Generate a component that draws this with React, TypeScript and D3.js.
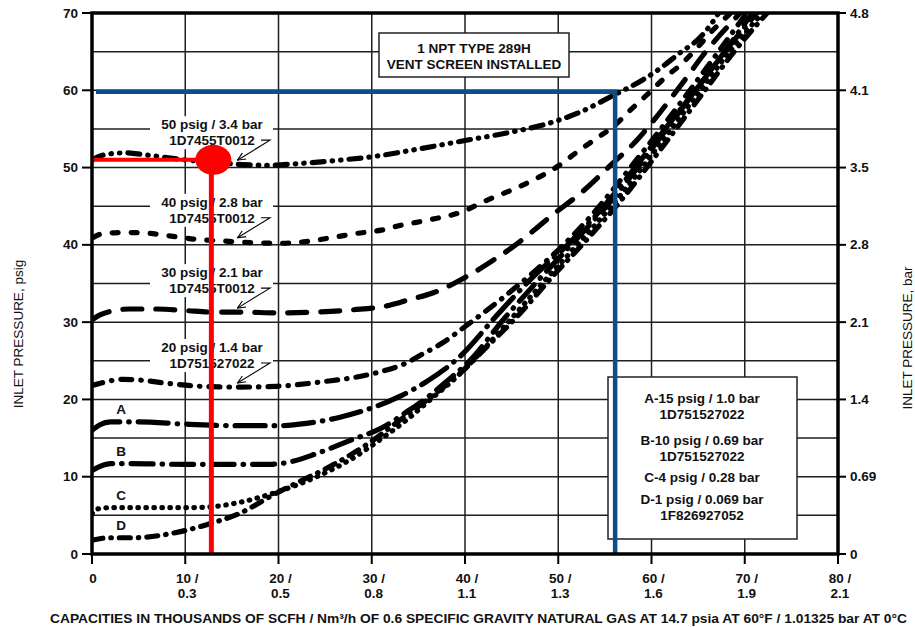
import React, { useEffect, useRef } from "react";
import * as d3 from "d3";

type Pt = [number, number];

// capacity (thousands of SCFH) vs inlet pressure (psig)
const curve50psig: Pt[] = [[0,51.0],[1.5,51.7],[3.5,51.9],[6,51.6],[8,51.3],[10,51.0],[13,50.7],[16,50.4],[19,50.3],[22,50.5],[26,50.9],[30,51.4],[35,52.4],[40,53.5],[45,54.6],[48,55.4],[52,57.0],[56,59.4],[59,61.3],[61,62.9],[63,64.8],[65,66.6],[66.3,68.4],[67.2,70]]
const curve40psig: Pt[] = [[0.2,41.0],[1,41.4],[3.5,41.6],[6,41.5],[8.7,41.1],[11.3,40.7],[14,40.5],[17,40.3],[20,40.2],[23.4,40.5],[26,41.0],[28.5,41.5],[31,41.9],[33,42.5],[36,43.2],[39.5,44.2],[42.4,45.8],[45,47.1],[48,48.8],[50,50.2],[52,52.0],[54,53.7],[56,55.4],[57.7,57.4],[59.5,59.4],[61.4,61.6],[63.3,63.5],[64.9,65.5],[66.6,67.8],[68.5,70]]
const curve30psig: Pt[] = [[0,30.3],[0.8,30.9],[2,31.4],[4,31.7],[7,31.7],[10,31.5],[13,31.3],[16,31.3],[20,31.2],[24,31.3],[28,31.6],[31.6,32.1],[34,32.9],[36.6,33.8],[38.8,35.0],[40.9,36.4],[43,38.0],[45.1,39.7],[47,41.5],[49.1,43.6],[52.7,47.0],[55.7,50.4],[58.4,53.5],[60.3,56.2],[62.3,59.3],[63.8,61.7],[65.5,64.5],[67.3,67.1],[69.2,69.6],[69.5,70]]
const curve20psig: Pt[] = [[0,21.8],[0.9,22.1],[3.3,22.6],[5.1,22.5],[8,22.1],[11.6,21.7],[15.9,21.6],[19.8,21.7],[24.8,22.3],[28.4,22.9],[31,23.6],[33.5,24.6],[35.5,25.9],[37.3,27.1],[40.2,29.6],[43.8,32.9],[47.3,36.4],[50.4,39.8],[53.7,44.0],[55.5,46.6],[58,50.4],[61,55.0],[64,59.8],[67,64.7],[70.2,70]]
const curveA: Pt[] = [[0,16.0],[0.8,16.7],[2,17.1],[5,17.1],[10,16.8],[16,16.6],[20,16.6],[23,16.9],[26.6,17.7],[30,18.9],[33,20.4],[36,22.4],[39.5,25.6],[43.5,31.0],[47,35.5],[51,40.0],[55.6,46.0],[59,51.2],[62.5,56.6],[66,62.0],[70.8,70]]
const curveB: Pt[] = [[0,10.8],[0.8,11.3],[2,11.7],[4,11.7],[10,11.6],[19,11.6],[21.2,11.9],[24.1,13.0],[27.7,14.7],[31.2,16.4],[34,18.6],[36,20.3],[38,22.3],[40.5,25.0],[44.3,30.6],[48,35.6],[52,40.8],[56.1,46.3],[60,52.4],[64,58.8],[68,65.2],[71.3,70]]
const curveC: Pt[] = [[0,5.2],[0.5,5.8],[2,6.0],[6,6.0],[10.5,6.0],[12.7,6.1],[15.9,6.7],[19.8,8.0],[24.1,10.0],[27.7,12.2],[30.9,14.8],[34,17.6],[36.5,20.2],[39,22.8],[42,26.5],[45,30.5],[48.5,35.3],[52.5,40.6],[56.6,46.3],[60.5,52.4],[64.5,58.8],[68.5,65.2],[71.9,70]]
const curveD: Pt[] = [[0,1.8],[1.9,2.1],[4.4,2.1],[8.7,2.7],[12.3,3.8],[15.9,5.3],[19.8,7.9],[22.3,9.4],[25.8,11.5],[30,14.6],[33,17.3],[36,20.0],[39.5,23.4],[42.5,27.0],[45.8,31.0],[49.3,35.8],[53,40.6],[57.1,46.3],[61,52.4],[65,58.8],[69,65.2],[72.4,70]]

const labelledCurves = [curve50psig, curve40psig, curve30psig, curve20psig]
const labelLine1 = ['50 psig / 3.4 bar', '40 psig / 2.8 bar', '30 psig / 2.1 bar', '20 psig / 1.4 bar']
const labelLine2 = ['1D7455T0012', '1D7455T0012', '1D7455T0012', '1D751527022']
const letterCurves = [curveA, curveB, curveC, curveD]
const letters = ['A', 'B', 'C', 'D']
const legendLines = ['A-15 psig / 1.0 bar', '1D751527022', 'B-10 psig / 0.69 bar', '1D751527022', 'C-4 psig / 0.28 bar', 'D-1 psig / 0.069 bar', '1F826927052']

const psigTicks = [0, 10, 20, 30, 40, 50, 60, 70]
const barLabels = ['0', '0.69', '1.4', '2.1', '2.8', '3.5', '4.1', '4.8']
const scfhTicks = [0, 10, 20, 30, 40, 50, 60, 70, 80]
const nm3Labels = ['', '0.3', '0.5', '0.8', '1.1', '1.3', '1.6', '1.9', '2.1']

// sizing example (red) and vent screen limit (blue)
const redPoint: Pt = [12.8, 51]
const bluePoint: Pt = [56.1, 60]

const interp = (pts: Pt[], xv: number) => {
  for (let i = 1; i < pts.length; i++) {
    if (pts[i][0] >= xv) {
      const [x0, y0] = pts[i - 1], [x1, y1] = pts[i]
      return y0 + (y1 - y0) * (xv - x0) / (x1 - x0)
    }
  }
  return pts[pts.length - 1][1]
}

const App = () => {
  const chart = useRef<SVGSVGElement>(null)

  useEffect(() => {
    const font = "'Liberation Sans', Arial, Helvetica, sans-serif"
    const svg = d3.select(chart.current)
    svg.selectAll('*').remove()

    const x = d3.scaleLinear().domain([0, 80]).range([92, 838])
    const y = d3.scaleLinear().domain([0, 70]).range([554, 13])

    svg.append('rect').attr('width', 915).attr('height', 627).attr('fill', '#fff')

    const defs = svg.append('defs')
    defs.append('clipPath').attr('id', 'plot-clip')
      .append('rect').attr('x', x(0)).attr('y', y(70)).attr('width', x(80) - x(0)).attr('height', y(0) - y(70))
    defs.append('marker').attr('id', 'arrow')
      .attr('viewBox', '0 0 10 10').attr('refX', 9).attr('refY', 5)
      .attr('markerWidth', 9).attr('markerHeight', 9).attr('markerUnits', 'userSpaceOnUse')
      .attr('orient', 'auto')
      .append('path').attr('d', 'M0,1 L9,5 L0,9').attr('fill', 'none').attr('stroke', '#000').attr('stroke-width', 1.2)

    // grid
    const grid = svg.append('g').attr('stroke', '#1e1e1e').attr('stroke-width', 1.5)
    grid.selectAll('line.h').data(d3.range(5, 70, 5)).join('line').attr('class', 'h')
      .attr('x1', x(0)).attr('x2', x(80)).attr('y1', d => y(d)).attr('y2', d => y(d))
    grid.selectAll('line.v').data(d3.range(10, 80, 10)).join('line').attr('class', 'v')
      .attr('x1', d => x(d)).attr('x2', d => x(d)).attr('y1', y(0)).attr('y2', y(70))

    // label positions follow the curves
    const arrowX = 15.6
    const labelPos = labelledCurves.map(c => {
      const cy = y(interp(c, arrowX))
      return { base1: cy - 35, base2: cy - 19, tipY: cy - 4 }
    })

    svg.append('g').attr('fill', '#fff').selectAll('rect').data(labelPos).join('rect')
      .attr('x', 150).attr('y', d => d.base1 - 13).attr('width', 123).attr('height', d => d.base2 - d.base1 + 17)

    // boxes
    svg.append('rect').attr('x', 379).attr('y', 33).attr('width', 190).attr('height', 44)
      .attr('fill', '#fff').attr('stroke', '#222').attr('stroke-width', 1.5)
    svg.append('rect').attr('x', 608).attr('y', 377).attr('width', 189).attr('height', 162)
      .attr('fill', '#fff').attr('stroke', '#222').attr('stroke-width', 1.5)

    const line = d3.line<Pt>().x(d => x(d[0])).y(d => y(d[1])).curve(d3.curveMonotoneX)
    const series = [
      { pts: curve50psig, dash: '12 8 0.5 8 0.5 8' },
      { pts: curve40psig, dash: '6 13' },
      { pts: curve30psig, dash: '19 14' },
      { pts: curve20psig, dash: '11 9 0.5 9' },
      { pts: curveA, dash: '30 9 0.5 9' },
      { pts: curveB, dash: '22 9 0.5 9' },
      { pts: curveC, dash: '0.5 7.5' },
      { pts: curveD, dash: '11 8 0.5 8' },
    ]
    svg.append('g').attr('clip-path', 'url(#plot-clip)')
      .selectAll('path').data(series).join('path')
      .attr('d', d => line(d.pts))
      .attr('fill', 'none').attr('stroke', '#000').attr('stroke-width', 5.2)
      .attr('stroke-linecap', 'round').attr('stroke-dasharray', d => d.dash)

    // curve labels
    const labels = svg.append('g').attr('font-family', font).attr('font-weight', 'bold').attr('font-size', 13.5)
      .attr('text-anchor', 'middle').attr('fill', '#111')
    labels.selectAll('text.l1').data(labelPos).join('text').attr('class', 'l1')
      .attr('x', 212).attr('y', d => d.base1).text((d, i) => labelLine1[i])
    labels.selectAll('text.l2').data(labelPos).join('text').attr('class', 'l2')
      .attr('x', 212).attr('y', d => d.base2).text((d, i) => labelLine2[i])
    svg.append('g').selectAll('path').data(labelPos).join('path')
      .attr('d', d => `M261,${d.base2 - 5}L270,${d.base2 - 5}L${x(arrowX)},${d.tipY}`)
      .attr('fill', 'none').attr('stroke', '#000').attr('stroke-width', 1.1).attr('marker-end', 'url(#arrow)')

    labels.selectAll('text.letter').data(letterCurves).join('text').attr('class', 'letter')
      .attr('x', 121).attr('y', d => y(interp(d, 3)) - 8).text((d, i) => letters[i])

    // box texts
    const boxText = svg.append('g').attr('font-family', font).attr('font-weight', 'bold').attr('font-size', 13.5)
      .attr('text-anchor', 'middle').attr('fill', '#111')
    boxText.append('text').attr('x', 474).attr('y', 53).text('1 NPT TYPE 289H')
    boxText.append('text').attr('x', 474).attr('y', 69).text('VENT SCREEN INSTALLED')
    const legendY = [403, 419, 445, 461, 482, 504, 520]
    boxText.selectAll('text.lg').data(legendLines).join('text').attr('class', 'lg')
      .attr('x', 702).attr('y', (d, i) => legendY[i]).text(d => d)

    // red example
    const red = svg.append('g').attr('stroke', '#ff0000').attr('fill', 'none')
    red.append('line').attr('x1', x(0)).attr('x2', x(redPoint[0])).attr('y1', y(redPoint[1])).attr('y2', y(redPoint[1])).attr('stroke-width', 4)
    red.append('line').attr('x1', x(redPoint[0])).attr('x2', x(redPoint[0])).attr('y1', y(redPoint[1])).attr('y2', y(0)).attr('stroke-width', 5)
    svg.append('ellipse').attr('cx', x(redPoint[0]) + 2).attr('cy', y(redPoint[1])).attr('rx', 18).attr('ry', 15).attr('fill', '#ff0000')

    // blue limit
    svg.append('path')
      .attr('d', `M${x(0) + 4},${y(bluePoint[1]) + 1.5}H${x(bluePoint[0])}V${y(0)}`)
      .attr('fill', 'none').attr('stroke', '#0d4d8c').attr('stroke-width', 4.5)

    // frame
    svg.append('rect').attr('x', x(0)).attr('y', y(70)).attr('width', x(80) - x(0)).attr('height', y(0) - y(70))
      .attr('fill', 'none').attr('stroke', '#000').attr('stroke-width', 3.5)

    // ticks
    const ticks = svg.append('g').attr('stroke', '#000').attr('stroke-width', 2)
    ticks.selectAll('line.l').data(psigTicks).join('line').attr('class', 'l')
      .attr('x1', x(0) - 10).attr('x2', x(0)).attr('y1', d => y(d)).attr('y2', d => y(d))
    ticks.selectAll('line.r').data(psigTicks).join('line').attr('class', 'r')
      .attr('x1', x(80)).attr('x2', x(80) + 8).attr('y1', d => y(d)).attr('y2', d => y(d))
    ticks.selectAll('line.b').data(scfhTicks).join('line').attr('class', 'b')
      .attr('x1', d => x(d)).attr('x2', d => x(d)).attr('y1', y(0)).attr('y2', y(0) + 10)

    const tl = svg.append('g').attr('font-family', font).attr('font-weight', 'bold').attr('font-size', 13.5).attr('fill', '#111')
    tl.selectAll('text.l').data(psigTicks).join('text').attr('class', 'l')
      .attr('x', 78).attr('y', d => y(d) + 4.5).attr('text-anchor', 'end').text(d => d)
    tl.selectAll('text.r').data(psigTicks).join('text').attr('class', 'r')
      .attr('x', 850).attr('y', d => y(d) + 4.5).text((d, i) => barLabels[i])
    tl.selectAll('text.b1').data(scfhTicks).join('text').attr('class', 'b1')
      .attr('x', d => x(d) + (d === 0 ? 1 : 2)).attr('y', 583).attr('text-anchor', 'middle')
      .text(d => d === 0 ? '0' : `${d} /`)
    tl.selectAll('text.b2').data(scfhTicks).join('text').attr('class', 'b2')
      .attr('x', d => x(d) + 2).attr('y', 598).attr('text-anchor', 'middle')
      .text((d, i) => nm3Labels[i])

    // axis titles
    svg.append('text').attr('x', 50).attr('y', 623).attr('font-family', font).attr('font-weight', 'bold')
      .attr('font-size', 13).attr('fill', '#111').attr('textLength', 857).attr('lengthAdjust', 'spacingAndGlyphs')
      .text('CAPACITIES IN THOUSANDS OF SCFH / Nm³/h OF 0.6 SPECIFIC GRAVITY NATURAL GAS AT 14.7 psia AT 60°F / 1.01325 bar AT 0°C')
    svg.append('text').attr('transform', 'translate(23,334) rotate(-90)').attr('text-anchor', 'middle')
      .attr('font-family', font).attr('font-size', 13.5).attr('fill', '#111').text('INLET PRESSURE, psig')
    svg.append('text').attr('transform', 'translate(912,338) rotate(-90)').attr('text-anchor', 'middle')
      .attr('font-family', font).attr('font-size', 13.5).attr('fill', '#111').text('INLET PRESSURE, bar')
  }, [])

  return (
    <svg ref={chart} width={915} height={627} style={{ position: 'absolute', left: 0, top: 0 }} />
  )
}

export default App
